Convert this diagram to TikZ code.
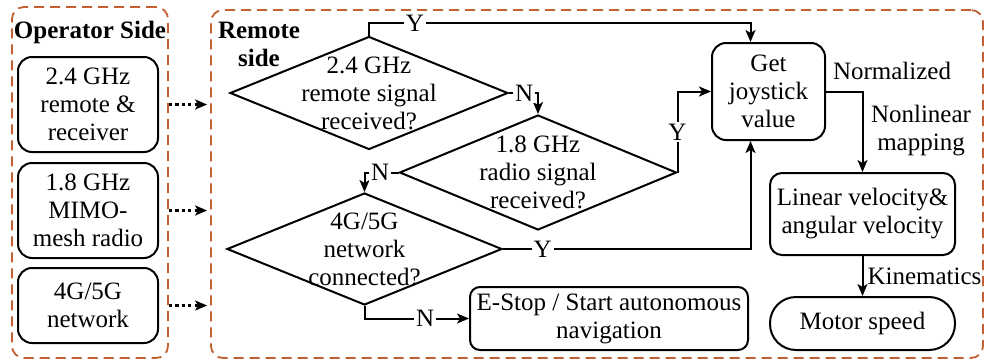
\documentclass[tikz,border=0pt]{standalone}
\usepackage{fontspec}
\setmainfont{Liberation Serif}
\usetikzlibrary{shapes.geometric,arrows.meta}
\definecolor{rust}{RGB}{193,96,48}

\begin{document}
\begin{tikzpicture}[x=0.5pt,y=-0.5pt,font=\fontsize{12.5}{14}\selectfont]
\tikzset{box/.style = {draw,rounded corners=7pt,line width=1pt,align=center,inner sep=0pt}}
\tikzset{decision/.style = {shape=diamond,draw,line width=1pt,inner sep=0pt}}
\tikzset{group/.style = {draw=rust,dash pattern=on 5pt off 3pt,line width=0.9pt,rounded corners=6pt}}
\tikzset{title/.style = {font=\fontsize{12.5}{14}\selectfont\bfseries,align=center,inner sep=0pt}}
\tikzset{edge/.style = {-{Stealth[length=6pt,width=5pt,inset=1.5pt]},line width=1pt}}
\tikzset{link/.style = {-{Stealth[length=6pt,width=5pt,inset=1.5pt]},line width=1.3pt,dash pattern=on 1.6pt off 1.6pt,shorten >=1.5pt}}
\tikzset{yn/.style = {fill=white,inner sep=1pt}}
\useasboundingbox (0,0) rectangle (986,364);
% groups
\node[group, minimum width=78pt, minimum height=175.5pt] (opside) at (90,182.5) {};
\node[group, minimum width=386pt, minimum height=174pt] (remote) at (597,184) {};
\node[title] (optitle) at (90,32) {Operator Side};
\node[title] (rmtitle) at (259,44.5) {Remote\\side};
% operator side
\node[box, minimum width=70pt, minimum height=47.5pt] (op1) at (88,104.5) {2.4 GHz\\remote \&\\receiver};
\node[box, minimum width=70pt, minimum height=47.5pt] (op2) at (88,210.5) {1.8 GHz\\MIMO-\\mesh radio};
\node[box, minimum width=70pt, minimum height=37.5pt] (op3) at (88,305.5) {4G/5G\\network};
% decisions
\node[decision, minimum width=139pt, minimum height=56.5pt,
  label={[align=center]center:{2.4 GHz\\remote signal\\received?}}] (sig24) at (369,93) {};
\node[decision, minimum width=138.5pt, minimum height=57.5pt,
  label={[align=center]center:{1.8 GHz\\radio signal\\received?}}] (sig18) at (538,172.5) {};
\node[decision, minimum width=137.5pt, minimum height=56pt,
  label={[align=center]center:{4G/5G\\network\\connected?}}] (net) at (364.5,249) {};
% processing
\node[box, minimum width=56.5pt, minimum height=48.5pt] (joy) at (768.5,91.5) {Get\\joystick\\value};
\node[box, rounded corners=6pt, minimum width=92.5pt, minimum height=41pt] (vel) at (862.5,214) {Linear velocity\&\\angular velocity};
\node[box, rounded corners=13pt, minimum width=92.5pt, minimum height=26.5pt] (motor) at (862.5,323.5) {Motor speed};
\node[box, rounded corners=5pt, minimum width=139pt, minimum height=31.5pt] (estop) at (609,318.5) {E-Stop / Start autonomous\\navigation};
% edge labels
\node (normlbl) at (892,71) {Normalized};
\node[align=center] (maplbl) at (921,131) {Nonlinear\\mapping};
%edges
\draw[link] (op1.east -| opside.east) -- (op1.east -| remote.west);
\draw[link] (op2.east -| opside.east) -- (op2.east -| remote.west);
\draw[link] (op3.east -| opside.east) -- (op3.east -| remote.west);
\draw[edge] (sig24.north) -- ++(0,-12.5) -| node[yn, pos=0.06] {Y} ([xshift=-9pt]joy.north);
\draw[edge] (sig24.east) -| node[yn, pos=0.26] {N} (sig18.north);
\draw[edge] (sig18.east) |- node[yn, pos=0.25] {Y} (joy.west);
\draw[edge] (sig18.west) -| node[yn, pos=0.27] {N} (net.north);
\draw[edge] (net.east) -| node[yn, pos=0.08] {Y} ([xshift=-9pt]joy.south);
\draw[edge] (net.south) |- node[yn, pos=0.79] {N} (estop.west);
\draw[edge] (joy.east) -| (vel.north);
\draw[edge] (vel) -- node[right, inner sep=2pt] {Kinematics} (motor);
\end{tikzpicture}
\end{document}
